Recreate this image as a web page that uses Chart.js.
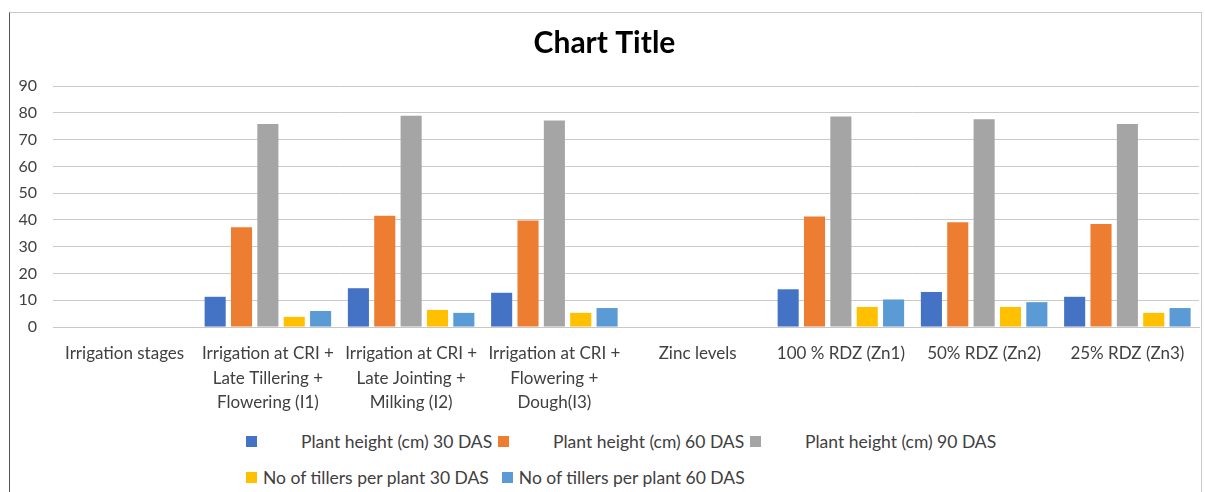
<!DOCTYPE html>
<html>
<head>
<meta charset="utf-8">
<script src="https://cdn.jsdelivr.net/npm/chart.js@4.4.1/dist/chart.umd.min.js"></script>
<style>
  body { margin: 0; background: #fff; font-family: Lato, sans-serif; }
  #wrap { position: absolute; left: 9px; top: 12px; width: 1191px; height: 480px; border: 1px solid #c8c8c8; border-left-color: #555; border-bottom: none; }
  #legend { position: absolute; left: 236px; top: 410px; color: #404040; font-size: 17.5px; white-space: nowrap; }
  .row { display: flex; align-items: center; height: 36px; }
  .item { display: flex; align-items: center; }
  .box { width: 11px; height: 11px; display: inline-block; }
  .row1 .item { width: 252px; }
  .row1 .box { margin-right: 44px; }
  .row2 .box { margin-right: 6px; }
  .row2 .item { margin-right: 13px; }
</style>
</head>
<body>
<div id="wrap"><canvas id="growthChart" width="1191" height="408"></canvas>
<div id="legend"></div></div>
<script>
const categories = [
  'Irrigation stages',
  ['Irrigation at CRI +', 'Late Tillering +', 'Flowering (I1)'],
  ['Irrigation at CRI +', 'Late Jointing +', 'Milking (I2)'],
  ['Irrigation at CRI +', 'Flowering +', 'Dough(I3)'],
  'Zinc levels',
  '100 % RDZ (Zn1)',
  '50% RDZ (Zn2)',
  '25% RDZ (Zn3)'
];

const seriesNames = [
  'Plant height (cm) 30 DAS',
  'Plant height (cm) 60 DAS',
  'Plant height (cm) 90 DAS',
  'No of tillers per plant 30 DAS',
  'No of tillers per plant 60 DAS'
];
const colors = ['#4472c4', '#ed7d31', '#a5a5a5', '#ffc000', '#5b9bd5'];

const height30 = [null, 11.3, 14.5, 12.8, null, 14.1, 13.1, 11.3];
const height60 = [null, 37.3, 41.6, 39.8, null, 41.3, 39.1, 38.5];
const height90 = [null, 75.8, 78.9, 77.1, null, 78.6, 77.6, 75.8];
const tillers30 = [null, 3.8, 6.4, 5.3, null, 7.5, 7.5, 5.3];
const tillers60 = [null, 6.0, 5.3, 7.1, null, 10.3, 9.3, 7.1];

const values = [height30, height60, height90, tillers30, tillers60];

const ctx = document.getElementById('growthChart');

const chart = new Chart(ctx, {
  type: 'bar',
  data: {
    labels: categories,
    datasets: values.map((v, i) => ({
      label: seriesNames[i],
      data: v,
      backgroundColor: colors[i]
    }))
  },
  options: {
    responsive: false,
    animation: false,
    devicePixelRatio: 1,
    categoryPercentage: 0.92,
    barPercentage: 0.8,
    layout: { padding: { left: 0, right: 2, top: 0, bottom: 0 } },
    plugins: {
      title: {
        display: true,
        text: 'Chart Title',
        color: '#000',
        font: { family: 'Lato', size: 30, weight: 'bold' },
        padding: { top: 12, bottom: 25 }
      },
      legend: { display: false },
      tooltip: { enabled: false }
    },
    scales: {
      x: {
        grid: { display: false },
        border: { color: '#c8c8c8' },
        ticks: {
          color: '#404040',
          font: { family: 'Lato', size: 17, lineHeight: 1.45 },
          maxRotation: 0,
          autoSkip: false,
          padding: 6
        }
      },
      y: {
        min: 0,
        max: 90,
        afterFit: (s) => { s.width = 43; },
        grid: { color: '#cacaca', drawTicks: false },
        border: { display: false },
        ticks: {
          stepSize: 10,
          color: '#404040',
          font: { family: 'Lato', size: 16 },
          padding: 16
        }
      }
    }
  }
});

// legend laid out like the original: three items on the first row, two below
const legend = document.getElementById('legend');
[[0, 1, 2], [3, 4]].forEach((idx, r) => {
  const row = document.createElement('div');
  row.className = 'row row' + (r + 1);
  idx.forEach(i => {
    const item = document.createElement('span');
    item.className = 'item';
    const box = document.createElement('span');
    box.className = 'box';
    box.style.background = colors[i];
    item.appendChild(box);
    item.appendChild(document.createTextNode(seriesNames[i]));
    row.appendChild(item);
  });
  legend.appendChild(row);
});
</script>
</body>
</html>
